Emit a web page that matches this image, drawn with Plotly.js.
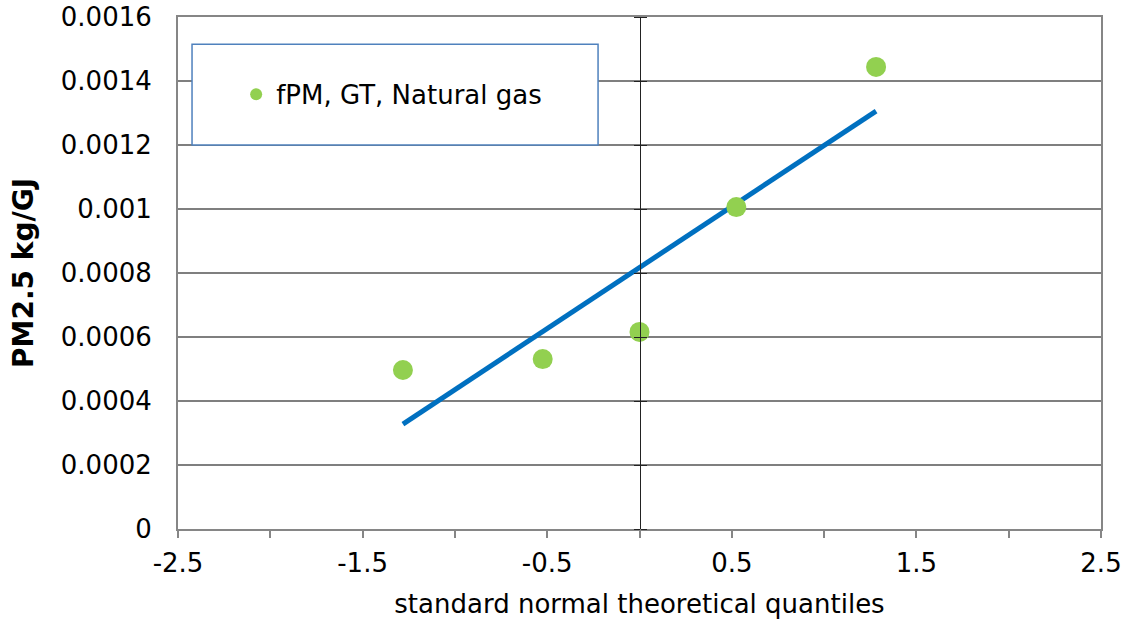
<!DOCTYPE html>
<html>
<head>
<meta charset="utf-8">
<script src="https://cdn.plot.ly/plotly-3.0.1.min.js"></script>
<style>html,body{margin:0;padding:0;background:#fff;}#chart{width:1126px;height:622px;}</style>
</head>
<body>
<div id="chart"></div>
<script>
// Data
const seriesName = "fPM, GT, Natural gas";
const quantiles = [-1.2816, -0.5244, 0, 0.5244, 1.2816];
const pm25 = [0.000497, 0.000531, 0.000616, 0.001006, 0.001444];
const fitX = [-1.2816, 1.2816];
const fitY = [0.000328, 0.001306];
const xTickVals = [-2.5, -1.5, -0.5, 0.5, 1.5, 2.5];
const xTickText = ["-2.5", "-1.5", "-0.5", "0.5", "1.5", "2.5"];
const yTickVals = [0, 0.0002, 0.0004, 0.0006, 0.0008, 0.001, 0.0012, 0.0014, 0.0016];
const yTickText = ["0", "0.0002", "0.0004", "0.0006", "0.0008", "0.001", "0.0012", "0.0014", "0.0016"];
const xTitle = "standard normal theoretical quantiles";
const yTitle = "PM2.5 kg/GJ";

const FONT = "DejaVu Sans, Verdana, sans-serif";

const traces = [
  {
    x: fitX, y: fitY, mode: "lines", type: "scatter",
    line: {color: "#0070C0", width: 5}, showlegend: false, hoverinfo: "skip"
  },
  {
    x: quantiles, y: pm25, mode: "markers", type: "scatter", name: seriesName,
    marker: {color: "#92D050", size: 20}
  }
];

const layout = {
  width: 1126, height: 622,
  margin: {l: 178, r: 25, t: 17, b: 93},
  paper_bgcolor: "#fff", plot_bgcolor: "#fff",
  font: {family: FONT, size: 26, color: "#000"},
  showlegend: true,
  legend: {
    x: 0.063, y: 0.849, xanchor: "left", yanchor: "middle",
    bgcolor: "rgba(0,0,0,0)", borderwidth: 0,
    font: {family: FONT, size: 26, color: "#000"},
    itemsizing: "constant"
  },
  xaxis: {
    range: [-2.5, 2.5], tickvals: xTickVals, ticktext: xTickText,
    showgrid: false, zeroline: false,
    showline: true, linecolor: "#868686", linewidth: 2, mirror: true,
    ticks: "outside", ticklen: 7, tickcolor: "#868686", tickwidth: 2,
    ticklabelstandoff: 3,
    minor: {dtick: 0.5, tick0: -2.5, ticks: "outside", ticklen: 7, tickcolor: "#868686", tickwidth: 2, showgrid: false},
    tickfont: {family: FONT, size: 26},
    title: {text: xTitle, font: {family: FONT, size: 26}, standoff: 18}
  },
  yaxis: {
    range: [0, 0.0016], tickvals: yTickVals, ticktext: yTickText,
    showgrid: true, gridcolor: "#7f7f7f", gridwidth: 1.5, zeroline: false,
    showline: true, linecolor: "#868686", linewidth: 2, mirror: true,
    ticks: "", ticklabelstandoff: 19,
    tickfont: {family: FONT, size: 26},
    title: {text: ""}
  },
  yaxis2: {
    range: [0, 0.0016], overlaying: "y", anchor: "free", position: 0.5, side: "left",
    tickvals: yTickVals, showticklabels: false, showgrid: false, zeroline: false,
    showline: true, linecolor: "#222", linewidth: 1,
    ticks: "outside", ticklen: 6, tickcolor: "#222", tickwidth: 1
  },
  yaxis3: {
    range: [0, 0.0016], overlaying: "y", anchor: "free", position: 0.5, side: "right",
    tickvals: yTickVals, showticklabels: false, showgrid: false, zeroline: false,
    showline: false,
    ticks: "outside", ticklen: 6, tickcolor: "#222", tickwidth: 1
  },
  annotations: [
    {text: yTitle, xref: "paper", yref: "paper", x: -0.168, y: 0.5,
     xanchor: "center", yanchor: "middle", textangle: -90, showarrow: false,
     font: {family: FONT, size: 28, weight: "bold", color: "#000"}}
  ],
  shapes: [
    {type: "rect", xref: "paper", yref: "paper",
     x0: 0.0152, x1: 0.4551, y0: 0.750, y1: 0.947,
     line: {color: "#4F81BD", width: 1.5}, fillcolor: "#fff", layer: "above"}
  ]
};

traces.push({x: [null], y: [null], yaxis: "y2", showlegend: false, hoverinfo: "skip", type: "scatter"});
traces.push({x: [null], y: [null], yaxis: "y3", showlegend: false, hoverinfo: "skip", type: "scatter"});

Plotly.newPlot("chart", traces, layout, {displayModeBar: false, staticPlot: true}).then(() => {
  const leg = document.querySelector(".legend");
  if (leg && leg.parentNode) leg.parentNode.appendChild(leg);
});
</script>
</body>
</html>
